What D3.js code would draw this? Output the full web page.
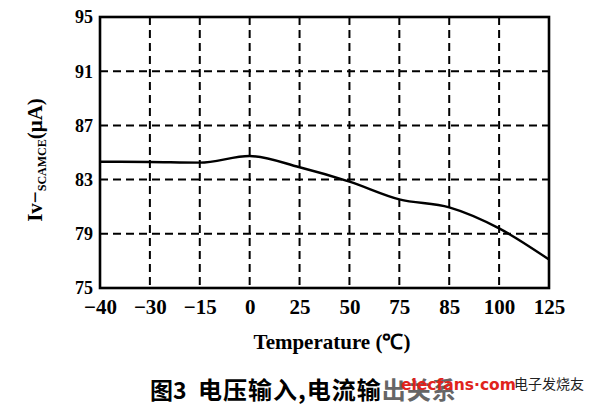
<!DOCTYPE html>
<html><head><meta charset="utf-8">
<script src="https://cdn.jsdelivr.net/npm/d3@7"></script>
<style>body{margin:0;background:#fff}svg{display:block}</style>
</head><body>
<svg id="c" width="605" height="407"></svg>
<script>
const categories = ["-40","-30","-15","0","25","50","75","85","100","125"];
const currentValues = [84.32, 84.30, 84.25, 84.74, 83.91, 82.85, 81.54, 80.95, 79.40, 77.10];
const yTicks = [75, 79, 83, 87, 91, 95];

const svg = d3.select("#c");
const L = 100, R = 549, T = 17, B = 288;
const x = d3.scalePoint().domain(categories).range([L, R]);
const y = d3.scaleLinear().domain([75, 95]).range([B, T]);
const serif = "'Liberation Serif','Times New Roman',serif";

// grid
const g = svg.append("g").attr("stroke", "#000").attr("stroke-width", 2).attr("stroke-dasharray", "8,5");
g.selectAll(".v").data(categories.slice(1, -1)).join("line")
  .attr("x1", d => x(d)).attr("x2", d => x(d)).attr("y1", T).attr("y2", B);
g.selectAll(".h").data(yTicks.slice(1, -1)).join("line")
  .attr("x1", L).attr("x2", R).attr("y1", d => y(d)).attr("y2", d => y(d));

// curve
svg.append("path").datum(currentValues)
  .attr("fill", "none").attr("stroke", "#000").attr("stroke-width", 2.4)
  .attr("d", d3.line().x((d, i) => x(categories[i])).y(d => y(d)).curve(d3.curveMonotoneX));

// frame
svg.append("rect").attr("x", L).attr("y", T).attr("width", R - L).attr("height", B - T)
  .attr("fill", "none").attr("stroke", "#000").attr("stroke-width", 2.6);

// axes labels
const xa = svg.append("g").attr("transform", `translate(0,${B})`)
  .call(d3.axisBottom(x).tickSize(0).tickPadding(0).tickFormat(d => d.replace("-", "\u2212")));
xa.select(".domain").remove();
xa.selectAll("text").attr("dy", null).attr("y", 26).attr("font-family", serif)
  .attr("font-weight", "bold").attr("font-size", 21).attr("fill", "#000");

const ya = svg.append("g").attr("transform", `translate(${L},0)`)
  .call(d3.axisLeft(y).tickValues(yTicks).tickSize(0).tickPadding(7));
ya.select(".domain").remove();
ya.selectAll("text").attr("dy", "0.33em").attr("font-family", serif)
  .attr("font-weight", "bold").attr("font-size", 18).attr("fill", "#000");

// x title
svg.append("text").attr("x", 332).attr("y", 349).attr("text-anchor", "middle")
  .attr("font-family", serif).attr("font-weight", "bold").attr("font-size", 21)
  .text("Temperature (\u2103)");

// y title
const yt = svg.append("text").attr("transform", "translate(42,160) rotate(-90)")
  .attr("text-anchor", "middle").attr("font-family", serif).attr("font-weight", "bold").attr("font-size", 21);
yt.append("tspan").text("Iv\u2212");
yt.append("tspan").attr("font-size", 12).attr("dy", 4).text("SCAMCE");
yt.append("tspan").attr("dy", -4).text("(\u03bcA)");

// caption
const cjk = "'Noto Sans CJK SC',sans-serif";
svg.append("text").attr("x", 150).attr("y", 399).attr("font-family", cjk)
  .attr("font-weight", "bold").attr("font-size", 23).text("图3");
const cap = svg.append("text").attr("x", 198).attr("y", 399).attr("font-family", cjk)
  .attr("font-weight", "bold").attr("font-size", 24).attr("letter-spacing", 1);
cap.append("tspan").text("电压输入,电流输");
cap.append("tspan").attr("fill", "#666").text("出关系");

// watermark
svg.append("text").attr("x", 401).attr("y", 390).attr("font-family", "'DejaVu Sans',sans-serif")
  .attr("font-weight", "bold").attr("font-size", 15.5).attr("fill", "#e0231c").text("elecfans\u00b7com");
svg.append("text").attr("x", 514).attr("y", 389).attr("font-family", cjk)
  .attr("font-size", 14).attr("fill", "#222").text("电子发烧友");
</script>
</body></html>
